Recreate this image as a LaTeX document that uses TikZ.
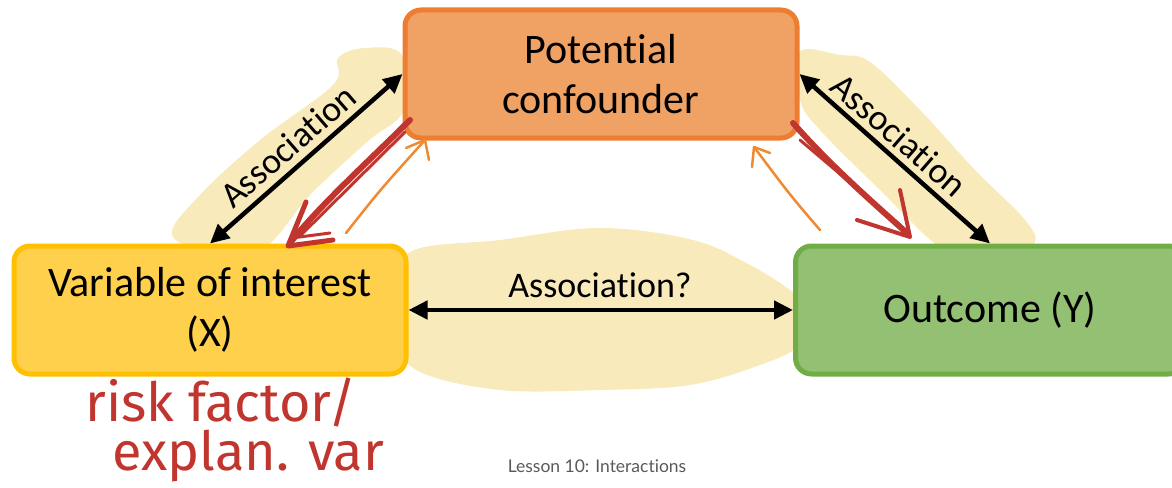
\documentclass[tikz,border=0pt]{standalone}
\usepackage{fontspec}
\setmainfont{Carlito}[Ligatures=NoCommon]
\newfontfamily\latofont{Lato}[Ligatures=NoCommon]
\newfontfamily\handfont{Fira Sans}
\usetikzlibrary{arrows.meta}
\newcommand{\tiX}{t\kern0pt i}
\definecolor{confborder}{HTML}{ED7D31}
\definecolor{conffill}{HTML}{F0A265}
\definecolor{xborder}{HTML}{FFC000}
\definecolor{xfill}{HTML}{FFD04C}
\definecolor{yborder}{HTML}{70AD47}
\definecolor{yfill}{HTML}{93C072}
\definecolor{blobc}{HTML}{F8EABA}
\definecolor{penred}{HTML}{C1352F}
\definecolor{penorange}{HTML}{F08A30}
\definecolor{footgray}{HTML}{595959}
\begin{document}
\begin{tikzpicture}[x=1pt,y=-1pt,
  box/.style={draw, line width=5pt, rounded corners=16pt, minimum width=392pt, minimum height=128pt, inner sep=0pt, align=center, font=\fontsize{42}{50}\selectfont},
  assoc/.style={line width=4.5pt, {Triangle[length=19pt,width=18pt]}-{Triangle[length=19pt,width=18pt]}},
  lbl/.style={font=\fontsize{36}{40}\selectfont, inner sep=0pt},
  blob/.style={fill=blobc, draw=none},
  redpen/.style={draw=penred, line width=6pt, line cap=round, line join=round},
  orpen/.style={draw=penorange, line width=2.5pt, line cap=round, line join=round},
  hand/.style={font=\handfont\fontsize{54}{60}\selectfont, text=penred, inner sep=0pt}]
\useasboundingbox (0,0) rectangle (1172,487);
% highlighter blobs
\fill[blob] plot[smooth cycle, tension=0.6] coordinates {(172,235) (200,195) (260,140) (333,85) (338,58) (365,48) (402,55) (404,110) (367,142) (310,195) (265,247) (215,252)};
\fill[blob] plot[smooth cycle, tension=0.6] coordinates {(799,52) (840,55) (870,62) (920,110) (975,170) (1025,220) (1033,245) (990,262) (940,247) (880,190) (820,130) (800,100)};
\fill[blob] plot[smooth cycle, tension=0.6] coordinates {(395,300) (410,252) (500,240) (600,228) (693,240) (750,265) (790,290) (815,312) (800,345) (760,365) (690,385) (600,390) (500,390) (420,372) (395,340)};
% boxes
\node[box, draw=confborder, fill=conffill] (conf) at (601,74) {Poten\tiX al\\confounder};
\node[box, draw=xborder, fill=xfill] (X) at (210,310) {Variable of interest\\(X)};
\node[box, draw=yborder, fill=yfill, minimum width=389pt] (Y) at (990,310) {Outcome (Y)};
% association arrows
\draw[assoc] (X.north) -- (conf.west);
\draw[assoc] (conf.east) -- (Y.north);
\draw[assoc] (X.east) -- (Y.west);
\node[lbl, rotate=41] (la) at (288,146) {Associa\tiX on};
\node[lbl, rotate=-41] (ra) at (899,135) {Associa\tiX on};
\node[lbl] (ca) at (600,285) {Associa\tiX on?};
% red hand-drawn arrows
\draw[redpen] (410,120) .. controls (370,160) and (320,205) .. (290,243);
\draw[redpen, line width=3pt] (405,132) -- (300,236);
\draw[redpen, line width=5pt] (306,202) -- (288,246) -- (333,240);
\draw[redpen, line width=3pt] (292,238) -- (330,233);
\draw[redpen] (793,123) .. controls (830,165) and (870,200) .. (908,234);
\draw[redpen, line width=3pt] (800,140) -- (900,225);
\draw[redpen, line width=4pt] (900,190) -- (910,237) -- (857,220);
% orange thin arrows
\draw[orpen] (346,233) .. controls (380,190) .. (425,140);
\draw[orpen] (406,148) -- (425,140) -- (429,160);
\draw[orpen] (820,230) .. controls (790,195) .. (754,147);
\draw[orpen] (752,167) -- (754,147) -- (770,153);
% handwriting
\node[hand, anchor=base west] (h1) at (85,421) {risk factor/};
\node[hand, anchor=base west] (h2) at (112,470) {explan. var};
% footer
\node[font=\latofont\fontsize{17.5}{20}\selectfont, text=footgray] (foot) at (597,466) {Lesson 10: Interac\tiX ons};
\end{tikzpicture}
\end{document}
